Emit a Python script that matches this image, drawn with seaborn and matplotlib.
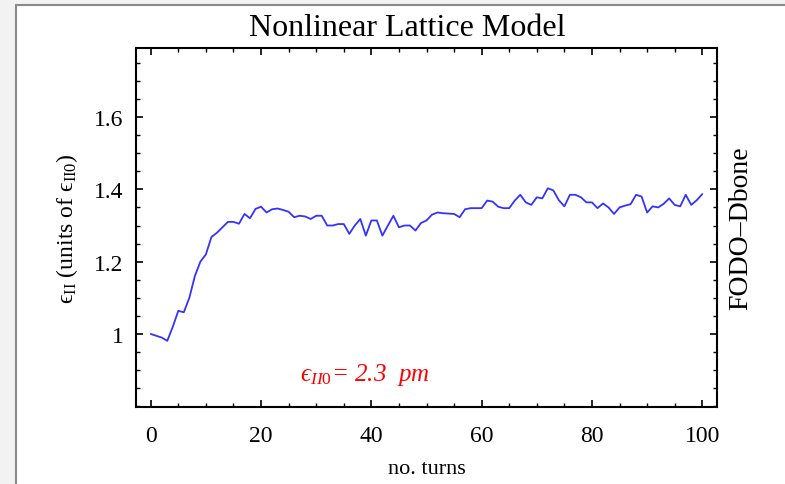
import numpy as np
import pandas as pd
import matplotlib
matplotlib.use("Agg")
import matplotlib.pyplot as plt
from matplotlib.patches import Rectangle
from matplotlib.ticker import MultipleLocator
import seaborn as sns

turns = list(range(0, 101))
emittance = [
    1.000, 0.995, 0.990, 0.981, 1.020, 1.064, 1.060, 1.100, 1.160, 1.200,
    1.220, 1.268, 1.280, 1.295, 1.310, 1.310, 1.305, 1.332, 1.320, 1.346,
    1.352, 1.336, 1.345, 1.347, 1.343, 1.338, 1.323, 1.327, 1.325, 1.318,
    1.327, 1.327, 1.300, 1.300, 1.304, 1.304, 1.277, 1.300, 1.318, 1.272,
    1.314, 1.314, 1.272, 1.300, 1.327, 1.295, 1.300, 1.300, 1.286, 1.307,
    1.314, 1.330, 1.336, 1.334, 1.333, 1.332, 1.323, 1.345, 1.348, 1.348,
    1.348, 1.369, 1.366, 1.352, 1.348, 1.348, 1.369, 1.385, 1.364, 1.357,
    1.378, 1.375, 1.403, 1.397, 1.370, 1.353, 1.385, 1.385, 1.378, 1.364,
    1.364, 1.348, 1.361, 1.350, 1.332, 1.350, 1.355, 1.359, 1.385, 1.380,
    1.336, 1.353, 1.350, 1.360, 1.375, 1.357, 1.353, 1.385, 1.357, 1.370,
    1.387,
]
x_ticks = [0, 20, 40, 60, 80, 100]
y_ticks = [1.0, 1.2, 1.4, 1.6]
y_tick_labels = ["1", "1.2", "1.4", "1.6"]

sns.set_theme(style="white")
plt.rcParams["font.family"] = ["Liberation Serif", "DejaVu Serif"]
plt.rcParams["mathtext.fontset"] = "custom"
plt.rcParams["mathtext.rm"] = "Liberation Serif"
plt.rcParams["mathtext.it"] = "Liberation Serif:italic"
plt.rcParams["mathtext.fallback"] = "stix"
plt.rcParams["text.color"] = "black"
plt.rcParams["axes.labelcolor"] = "black"
plt.rcParams["xtick.color"] = "black"
plt.rcParams["ytick.color"] = "black"

df = pd.DataFrame({"turns": turns, "emittance": emittance})

fig = plt.figure(figsize=(7.85, 4.85), dpi=100)
fig.patch.set_facecolor("#f2f2f2")
fig.patches.append(Rectangle((16 / 785, -0.1), 1.2, 1.1 - 6 / 485,
                             transform=fig.transFigure, facecolor="white",
                             edgecolor="#8a8a8a", linewidth=1.5, zorder=-10))

ax = fig.add_axes([136 / 785, 1 - 408 / 485, 581 / 785, 359 / 485])
ax.set_facecolor("white")
sns.lineplot(data=df, x="turns", y="emittance", ax=ax, color="#3333ff",
             linewidth=1.3)

ax.set_xlim(-2.67, 102.67)
ax.set_ylim(0.798, 1.791)
ax.set_xticks(x_ticks)
ax.set_xticklabels([str(v) for v in x_ticks])
ax.set_yticks(y_ticks)
ax.set_yticklabels(y_tick_labels)
ax.xaxis.set_minor_locator(MultipleLocator(5))
ax.yaxis.set_minor_locator(MultipleLocator(0.05))
ax.tick_params(which="both", direction="in", top=True, right=True,
               bottom=True, left=True, color="black", labelcolor="black")
ax.tick_params(axis="x", which="major", length=5, width=1.2, labelsize=17,
               pad=13)
ax.tick_params(axis="y", which="major", length=5, width=1.2, labelsize=17,
               pad=9)
ax.tick_params(which="minor", length=3, width=1.0)
for s in ax.spines.values():
    s.set_color("black")
    s.set_linewidth(1.5)

ax.set_xlabel("no. turns", fontsize=16, labelpad=9, color="black")
ax.set_ylabel("\u03f5" + r"$_{\mathrm{II}}$ (units of " + "\u03f5"
              + r"$_{\mathrm{II0}}$)",
              fontsize=17, labelpad=10, color="black")
fig.text(407 / 785, 1 - 28 / 485, "Nonlinear Lattice Model",
         family="Liberation Serif", fontsize=23, ha="center", va="center",
         color="black")
ax.text(38.9, 0.889, "\u03f5" + r"$_{II0}$" + "= 2.3  pm", color="red",
        family=["Liberation Serif", "DejaVu Serif"], style="italic",
        fontsize=18, ha="center", va="center")
fig.text(741 / 785, 1 - 228 / 485, "FODO\u2013Dbone", rotation=90,
         family="Liberation Serif", fontsize=20, ha="center", va="center",
         color="black")

fig.savefig("out.png", dpi=100, facecolor=fig.get_facecolor())
